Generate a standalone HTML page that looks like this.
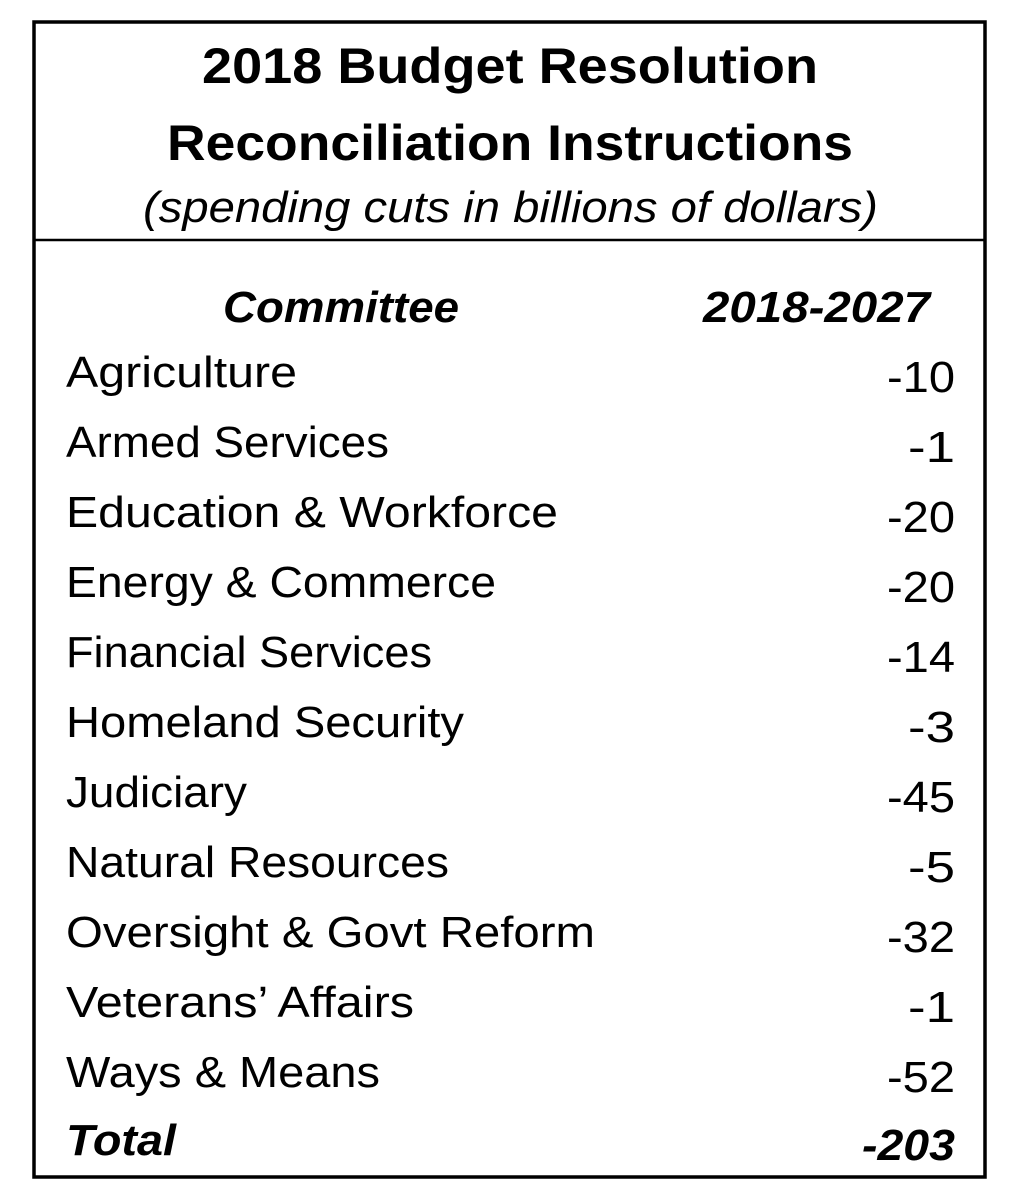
<!DOCTYPE html>
<html><head><meta charset="utf-8"><style>
html,body{margin:0;padding:0;background:#fff;}
svg{display:block;font-family:"Liberation Sans",Arial,sans-serif;}
</style></head><body>
<svg id="tbl" width="1014" height="1204" viewBox="0 0 1014 1204" xmlns="http://www.w3.org/2000/svg">
<rect x="34" y="22" width="951" height="1155" fill="none" stroke="#000" stroke-width="3.5"/>
<line x1="34" y1="240" x2="985" y2="240" stroke="#000" stroke-width="2.5"/>
<text x="202" y="83" font-size="50" font-weight="bold" textLength="616" lengthAdjust="spacingAndGlyphs">2018 Budget Resolution</text>
<text x="167" y="160" font-size="50" font-weight="bold" textLength="686" lengthAdjust="spacingAndGlyphs">Reconciliation Instructions</text>
<text x="143" y="222" font-size="44" font-style="italic" textLength="735" lengthAdjust="spacingAndGlyphs">(spending cuts in billions of dollars)</text>
<text x="223" y="322" font-size="44" font-weight="bold" font-style="italic" textLength="236" lengthAdjust="spacingAndGlyphs">Committee</text>
<text x="703" y="322" font-size="44" font-weight="bold" font-style="italic" textLength="227" lengthAdjust="spacingAndGlyphs">2018-2027</text>
<g id="rows"></g>
</svg>
<script>
const committees = ["Agriculture","Armed Services","Education & Workforce","Energy & Commerce","Financial Services","Homeland Security","Judiciary","Natural Resources","Oversight & Govt Reform","Veterans\u2019 Affairs","Ways & Means"];
const cuts = [-10,-1,-20,-20,-14,-3,-45,-5,-32,-1,-52];
const labelWidths = [231,323,492,430,366,398,181,383,529,348,314];
const ns = "http://www.w3.org/2000/svg";
const g = document.getElementById("rows");
function mk(txt, attrs){
  const t = document.createElementNS(ns,"text");
  for (const k in attrs) t.setAttribute(k, attrs[k]);
  t.textContent = txt;
  g.appendChild(t);
  return t;
}
committees.forEach((c,i)=>{
  const y = 387 + i*70;
  const l = mk(c,{x:66,y:y,"font-size":44,textLength:labelWidths[i],lengthAdjust:"spacingAndGlyphs"});
  
  
  const s = String(cuts[i]);
  const v = mk(s,{x:955,y:y+5,"font-size":44,"text-anchor":"end",textLength:s.length*21+5,lengthAdjust:"spacingAndGlyphs"});
  
  
});
const total = cuts.reduce((a,b)=>a+b,0);
const tl = mk("Total",{x:66,y:1155,"font-size":44,"font-weight":"bold","font-style":"italic",textLength:110,lengthAdjust:"spacingAndGlyphs"});


const ts = String(total);
const tv = mk(ts,{x:955,y:1160,"font-size":44,"font-weight":"bold","font-style":"italic","text-anchor":"end",textLength:ts.length*23+1,lengthAdjust:"spacingAndGlyphs"});


</script>
</body></html>
